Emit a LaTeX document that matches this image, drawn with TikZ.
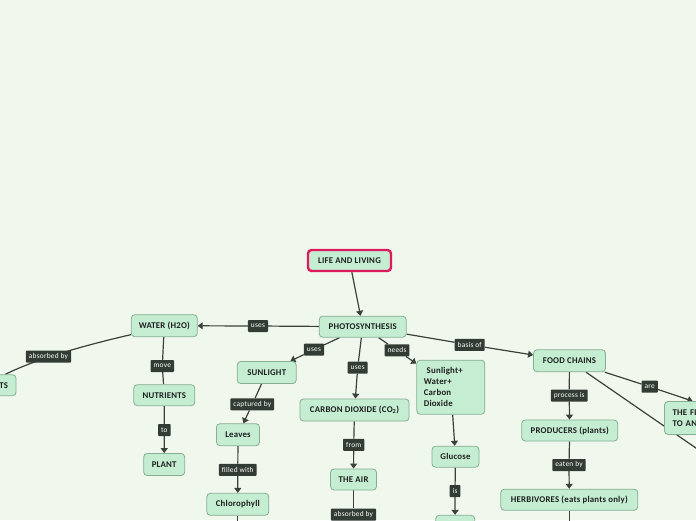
\documentclass[tikz,border=0pt]{standalone}
\usepackage{fontspec}
\setmainfont{Carlito}
\newfontfamily\nodefont[LetterSpace=2.5]{Carlito}
\newfontfamily\lblfont[LetterSpace=3]{Carlito}
\usetikzlibrary{arrows.meta,calc}
\definecolor{bgc}{HTML}{F0F8EE}
\definecolor{nodefill}{HTML}{C4EDD2}
\definecolor{nodeline}{HTML}{86AE92}
\definecolor{lblfill}{HTML}{323B34}
\definecolor{linec}{HTML}{3A413C}
\definecolor{rootred}{HTML}{DC1A5C}
\pgfdeclarelayer{bglayer}
\pgfdeclarelayer{edgelayer}
\pgfsetlayers{bglayer,edgelayer,main}
\begin{document}
\begin{tikzpicture}[x=1pt,y=-1pt,
 nd/.style={draw=nodeline, fill=nodefill, line width=0.8pt, rounded corners=3.5pt,
   font=\nodefont\fontsize{8.8}{11}\selectfont\bfseries, text=black!88, inner sep=2pt, minimum height=21.5pt},
 lb/.style={fill=lblfill, text=white, font=\lblfont\fontsize{7.4}{8}\selectfont, inner xsep=3pt, inner ysep=1pt,
   minimum height=12pt, rounded corners=0.8pt},
 cn/.style={draw=linec, line width=1.2pt},
 ar/.style={cn, -{Triangle[length=5pt,width=7pt]}}
]
\useasboundingbox (0,0) rectangle (696,520);
\begin{pgfonlayer}{bglayer}
\fill[bgc] (0,0) rectangle (696,520);
\end{pgfonlayer}
\clip (0,0) rectangle (696,520);

% main nodes
\node[nd, draw=rootred, line width=2.4pt, minimum width=83, minimum height=21] (life) at (349.5,260.5) {LIFE AND LIVING};
\node[nd, minimum width=87, minimum height=21] (photo) at (362.7,326.7) {PHOTOSYNTHESIS};
\node[nd, minimum width=66, minimum height=22] (water) at (164.3,325.7) {WATER (H2O)};
\node[nd, minimum width=61, minimum height=21] (nutr) at (164.3,395.2) {NUTRIENTS};
\node[nd, minimum width=41, minimum height=22] (plant) at (164.2,464.5) {PLANT};
\node[nd, minimum width=42, minimum height=21] (roots) at (-5,385.2) {ROOTS};
\node[nd, minimum width=59, minimum height=22] (sun) at (266.7,372.5) {SUNLIGHT};
\node[nd, minimum width=43, minimum height=22] (leaves) at (238,434.7) {Leaves};
\node[nd, minimum width=62, minimum height=22] (chl) at (237.8,504.3) {Chlorophyll};
\node[nd, minimum width=109, minimum height=22] (co2) at (354.5,410) {CARBON DIOXIDE (CO\textsubscript{2})};
\node[nd, minimum width=46, minimum height=21] (air) at (353.5,479.5) {THE AIR};
\node[nd, text width=54pt, align=left, inner xsep=7pt, inner ysep=4pt, minimum height=54] (mix) at (450.8,387.2)
  {\ Sunlight+\\Water+\\Carbon\\Dioxide};
\node[nd, minimum width=47, minimum height=21] (glu) at (455.5,456.7) {Glucose};
\node[nd, minimum width=39, minimum height=30] (below) at (455.2,530.3) {};
\node[nd, minimum width=72, minimum height=22] (fc) at (569.5,360.8) {FOOD CHAINS};
\node[nd, minimum width=96, minimum height=21] (prod) at (569.7,430.5) {PRODUCERS (plants)};
\node[nd, minimum width=137, minimum height=21] (herb) at (569.3,499.7) {HERBIVORES (eats plants only)};
\node[nd, text width=141pt, align=left, inner xsep=8pt, inner ysep=4pt, minimum height=33] (flow) at (743,418)
  {THE FLOW\\TO ANIMALS};

% connector labels
\node[lb] (uses1) at (258,326) {uses};
\node[lb] (absb1) at (48.5,356.7) {absorbed by};
\node[lb] (move) at (162.3,366) {move};
\node[lb] (to) at (164.3,430) {to};
\node[lb] (uses2) at (314,349.7) {uses};
\node[lb] (uses3) at (357.7,367.7) {uses};
\node[lb] (needs) at (397,350.3) {needs};
\node[lb] (basis) at (469.7,344.8) {basis of};
\node[lb] (capt) at (252.3,404.3) {captured by};
\node[lb] (filled) at (237.8,469.8) {filled with};
\node[lb] (from) at (353.7,444.8) {from};
\node[lb] (absb2) at (353.5,514.5) {absorbed by};
\node[lb] (is) at (455,491) {is};
\node[lb] (proc) at (569.2,395.5) {process is};
\node[lb] (eaten) at (569,465) {eaten by};
\node[lb] (are) at (649.7,386.7) {are};

% free ends beyond the frame
\coordinate (chlend) at (237.8,560);
\coordinate (absb2end) at (353.5,560);
\coordinate (herbend) at (569.3,560);
\coordinate (fcend) at (780,506);

\begin{pgfonlayer}{edgelayer}
\draw[ar] (life) -- (photo);
\draw[ar] (photo) -- (uses1) -- (water);
\draw[cn] (water.195) .. controls (95,343) and (40,357) .. ($(roots.north east)+(-11,0)$);
\draw[cn] (water) -- (move) -- (nutr);
\draw[ar] (nutr) -- (to) -- (plant);
\draw[ar] (photo) -- (uses2) -- (sun);
\draw[ar] (photo) -- (uses3) -- (co2);
\draw[ar] (photo) -- (needs) -- (mix);
\draw[ar] (photo) -- (basis) -- (fc);
\draw[ar] (sun) -- (capt) -- (leaves);
\draw[ar] (leaves) -- (filled) -- (chl);
\draw[cn] (chl) -- (chlend);
\draw[ar] (co2) -- (from) -- (air);
\draw[cn] (air) -- (absb2) -- (absb2end);
\draw[ar] (mix) -- (glu);
\draw[ar] (glu) -- (is) -- (below);
\draw[ar] (fc) -- (proc) -- (prod);
\draw[ar] (prod) -- (eaten) -- (herb);
\draw[cn] (herb) -- (herbend);
\draw[ar] (fc) -- (are) -- (flow);
\draw[cn] (fc) -- (fcend);
\end{pgfonlayer}
\end{tikzpicture}
\end{document}
